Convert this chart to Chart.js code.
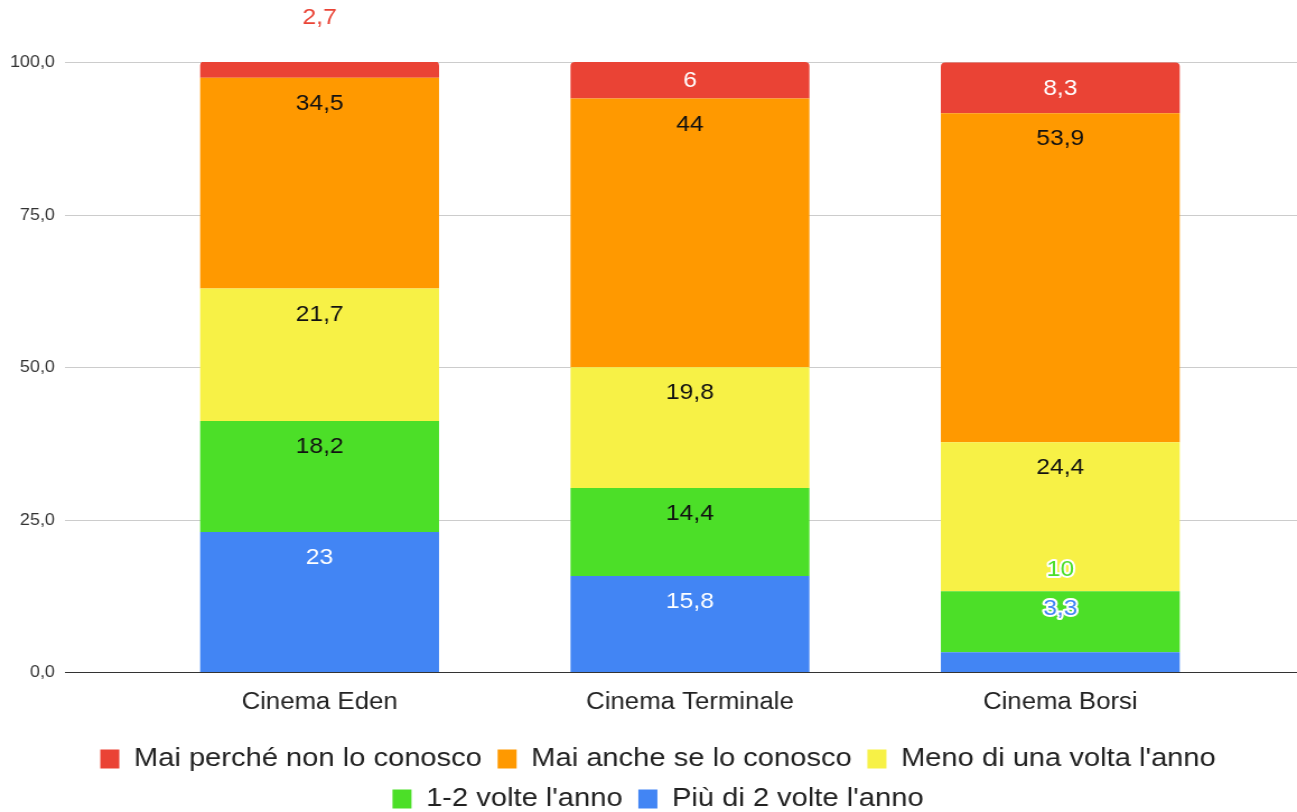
<!DOCTYPE html>
<html>
<head>
<meta charset="utf-8">
<script src="https://cdn.jsdelivr.net/npm/chart.js@4.4.0/dist/chart.umd.min.js"></script>
<style>
    html, body { margin: 0; padding: 0; background: #fff; overflow: hidden; height: 812px; }
    #myChart { display: block; }
</style>
</head>
<body>
<!-- l'originale è leggermente allargato in orizzontale: il canvas viene stirato via CSS -->
<canvas id="myChart" width="1158" height="822" style="width:1297px;height:822px"></canvas>
<script>
// categorie (asse x)
const cinemas = ['Cinema Eden', 'Cinema Terminale', 'Cinema Borsi'];
// serie, dal basso verso l'alto della pila
const piuDi2 = [23, 15.8, 3.3];
const unoDue = [18.2, 14.4, 10];
const menoDiUna = [21.7, 19.8, 24.4];
const maiAnche = [34.5, 44, 53.9];
const maiPerche = [2.7, 6, 8.3];
// tick asse y
const yTicks = [0, 25, 50, 75, 100];

const fmt = v => String(v).replace('.', ',');
const FONT = 'Liberation Sans, Arial, sans-serif';

// griglia orizzontale su tutta la larghezza + etichette dell'asse y
const griglia = {
    id: 'griglia',
    beforeDatasetsDraw(chart) {
        const ctx = chart.ctx;
        const y = chart.scales.y;
        ctx.save();
        ctx.lineWidth = 1;
        ctx.strokeStyle = '#cccccc';
        ctx.fillStyle = '#333333';
        ctx.font = '16px ' + FONT;
        ctx.textAlign = 'right';
        ctx.textBaseline = 'middle';
        y.ticks.forEach(t => {
            const py = Math.round(y.getPixelForValue(t.value)) + 0.5;
            ctx.fillText(t.value.toFixed(1).replace('.', ','), 49, py);
            if (t.value === 0) return;
            ctx.beginPath();
            ctx.moveTo(58, py);
            ctx.lineTo(chart.width, py);
            ctx.stroke();
        });
        ctx.restore();
    },
    afterDatasetsDraw(chart) {
        const ctx = chart.ctx;
        const py = Math.round(chart.scales.y.getPixelForValue(0)) + 0.5;
        ctx.save();
        ctx.strokeStyle = '#333333';
        ctx.lineWidth = 1;
        ctx.beginPath();
        ctx.moveTo(58, py);
        ctx.lineTo(chart.width, py);
        ctx.stroke();
        ctx.restore();
    }
};

// etichette dei valori
const etichette = {
    id: 'etichette',
    afterDatasetsDraw(chart) {
        const ctx = chart.ctx;
        ctx.save();
        ctx.font = '22px ' + FONT;
        ctx.textAlign = 'center';
        ctx.textBaseline = 'middle';
        chart.data.labels.forEach((_, j) => {
            let lastY = null;
            chart.data.datasets.forEach((ds, i) => {
                const bar = chart.getDatasetMeta(i).data[j];
                const h = bar.base - bar.y;
                const txt = fmt(ds.data[j]);
                let y, fuori = false;
                if (h < 30) { y = bar.y - 43; fuori = true; }
                else if (h < 45) { y = (bar.y + bar.base) / 2 + 1; }
                else { y = bar.y + 26; }
                if (!fuori && lastY !== null && Math.abs(lastY - y) < 28) {
                    y = bar.y - 21;
                    fuori = true;
                }
                if (fuori) {
                    ctx.lineWidth = 4;
                    ctx.lineJoin = 'round';
                    ctx.strokeStyle = '#ffffff';
                    ctx.strokeText(txt, bar.x, y);
                    ctx.fillStyle = ds.backgroundColor;
                } else {
                    ctx.fillStyle = ds.labelColor;
                }
                ctx.fillText(txt, bar.x, y);
                lastY = y;
            });
        });
        ctx.restore();
    }
};

const data = {
    labels: cinemas,
    datasets: [
        { label: "Più di 2 volte l'anno", data: piuDi2, backgroundColor: '#4285f4', labelColor: '#ffffff' },
        { label: "1-2 volte l'anno", data: unoDue, backgroundColor: '#4cdf28', labelColor: '#111111' },
        { label: "Meno di una volta l'anno", data: menoDiUna, backgroundColor: '#f7f146', labelColor: '#111111' },
        { label: 'Mai anche se lo conosco', data: maiAnche, backgroundColor: '#ff9900', labelColor: '#111111' },
        { label: 'Mai perché non lo conosco', data: maiPerche, backgroundColor: '#ea4335', labelColor: '#ffffff',
          borderRadius: { topLeft: 4, topRight: 4, bottomLeft: 0, bottomRight: 0 }, borderSkipped: false }
    ]
};

const config = {
    type: 'bar',
    data: data,
    options: {
        responsive: false,
        animation: false,
        layout: {
            padding: { top: 62, left: 63, right: 46, bottom: 0 }
        },
        datasets: {
            bar: { categoryPercentage: 1, barPercentage: 0.645, borderWidth: 0 }
        },
        scales: {
            x: {
                stacked: true,
                grid: { display: false, drawTicks: false },
                border: { display: false },
                ticks: { padding: 16, color: '#222', font: { family: FONT, size: 23 } }
            },
            y: {
                stacked: true,
                min: 0,
                max: 100,
                afterBuildTicks: axis => { axis.ticks = yTicks.map(v => ({ value: v })); },
                afterFit: axis => {
                    axis.width = 57;
                    axis.paddingTop = 0;
                    axis.paddingBottom = 0;
                },
                grid: { display: false, drawTicks: false },
                border: { display: false },
                ticks: { display: false }
            }
        },
        plugins: {
            tooltip: { enabled: false },
            legend: {
                position: 'bottom',
                reverse: true,
                labels: {
                    boxWidth: 17,
                    boxHeight: 19,
                    padding: 14,
                    color: '#222',
                    font: { family: FONT, size: 26 }
                }
            }
        }
    },
    plugins: [griglia, etichette]
};

new Chart(document.getElementById('myChart'), config);
</script>
</body>
</html>
